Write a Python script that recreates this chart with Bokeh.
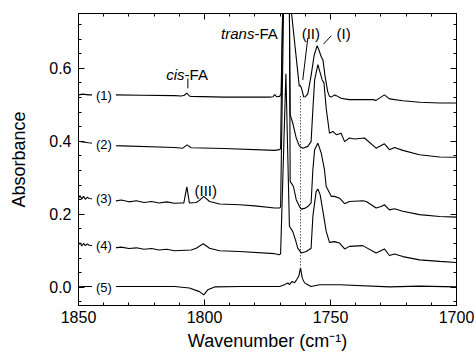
from bokeh.plotting import figure
from bokeh.models import (Range1d, LinearAxis, SingleIntervalTicker, PrintfTickFormatter, Label,
                          CustomJSTickFormatter)
from bokeh.embed import file_html
from bokeh.resources import INLINE

# ---- data: (wavenumber, absorbance) ----
trace1 = [(1850, 0.527), (1848.3, 0.529), (1846.0, 0.527), (1835.7, 0.527), (1825.0, 0.526),
          (1811.9, 0.525), (1809.2, 0.524), (1808.0, 0.526), (1807.0, 0.532), (1806.0, 0.524),
          (1805.3, 0.523), (1792.1, 0.521), (1786.0, 0.521), (1774.2, 0.521), (1772.8, 0.522),
          (1772.2, 0.528), (1771.4, 0.522), (1770.2, 0.523), (1769.6, 0.530), (1767.7, 1.200),
          (1765.6, 0.760), (1762.4, 0.551), (1762.0, 0.553), (1761.5, 0.545), (1760.6, 0.521),
          (1760.0, 0.522), (1759.0, 0.530), (1757.7, 0.580), (1756.5, 0.635), (1755.3, 0.662),
          (1754.5, 0.648), (1753.6, 0.630), (1753.0, 0.623), (1752.2, 0.580), (1751.1, 0.536),
          (1750.4, 0.523), (1749.7, 0.521), (1748.4, 0.527), (1747.7, 0.525), (1745.8, 0.518),
          (1744.4, 0.516), (1742.5, 0.514), (1733.2, 0.514), (1731.9, 0.512), (1728.6, 0.527),
          (1726.6, 0.516), (1721.3, 0.511), (1714.7, 0.507), (1706.7, 0.505), (1700, 0.505)]

trace2 = [(1850, 0.400), (1848.3, 0.398), (1846.0, 0.396), (1835.7, 0.388), (1811.9, 0.383),
          (1808.6, 0.381), (1806.9, 0.390), (1805.3, 0.382), (1792.1, 0.380), (1772.2, 0.375),
          (1770.2, 0.377), (1769.8, 0.380), (1767.9, 1.300), (1766.3, 0.760), (1766.0, 0.473),
          (1765.0, 0.450), (1763.6, 0.409), (1762.3, 0.386), (1761.0, 0.381), (1759.0, 0.386),
          (1757.7, 0.399), (1757.0, 0.486), (1756.3, 0.568), (1755.0, 0.610), (1754.2, 0.590),
          (1753.3, 0.568), (1752.6, 0.560), (1751.7, 0.490), (1750.4, 0.422), (1749.1, 0.427),
          (1747.7, 0.418), (1745.8, 0.422), (1744.4, 0.399), (1742.5, 0.409), (1740.5, 0.406),
          (1736.5, 0.409), (1731.9, 0.381), (1728.6, 0.393), (1726.6, 0.377), (1724.6, 0.383),
          (1721.3, 0.375), (1714.7, 0.363), (1706.7, 0.357), (1700, 0.356)]

trace3 = [(1850, 0.244), (1849.4, 0.251), (1848.7, 0.242), (1848.0, 0.249), (1847.3, 0.241),
          (1846.5, 0.247), (1845.8, 0.243), (1835.7, 0.236), (1833, 0.239), (1830, 0.234),
          (1827, 0.237), (1824, 0.232), (1821, 0.235), (1818, 0.231), (1815, 0.234),
          (1812, 0.230), (1809.2, 0.231), (1808.2, 0.231), (1807.0, 0.275), (1806.0, 0.231),
          (1803.3, 0.232), (1802.0, 0.238), (1800.3, 0.249), (1798.0, 0.235), (1794.0, 0.228),
          (1786.1, 0.226), (1780, 0.223), (1772.2, 0.217), (1770.2, 0.217), (1769.8, 0.220),
          (1767.9, 1.100), (1766.3, 0.760), (1766.0, 0.290), (1764.7, 0.276), (1763.6, 0.240),
          (1762.3, 0.221), (1761.6, 0.214), (1760.3, 0.216), (1759.0, 0.221), (1757.7, 0.231),
          (1757.0, 0.322), (1756.3, 0.377), (1755.0, 0.395), (1753.7, 0.368), (1752.4, 0.322),
          (1751.7, 0.276), (1749.7, 0.249), (1748.4, 0.249), (1746.4, 0.244), (1744.4, 0.229),
          (1742.5, 0.235), (1737.2, 0.237), (1735.8, 0.235), (1731.9, 0.217), (1729.9, 0.221),
          (1728.6, 0.226), (1726.6, 0.212), (1724.6, 0.215), (1721.3, 0.208), (1714.7, 0.199),
          (1706.7, 0.194), (1700, 0.192)]

trace4 = [(1850, 0.116), (1849.4, 0.122), (1848.7, 0.113), (1848.0, 0.120), (1847.3, 0.114),
          (1846.5, 0.119), (1845.8, 0.115), (1835.7, 0.108), (1833, 0.110), (1830, 0.106),
          (1827, 0.108), (1824, 0.104), (1821, 0.106), (1818, 0.102), (1815, 0.104),
          (1811.9, 0.100), (1805.3, 0.102), (1803.3, 0.107), (1800.5, 0.119), (1798.0, 0.107),
          (1794.0, 0.100), (1786.1, 0.098), (1772.2, 0.092), (1770.2, 0.089), (1769.8, 0.092),
          (1767.7, 0.585), (1766.3, 0.167), (1765.0, 0.153), (1763.9, 0.130), (1763.0, 0.107),
          (1761.6, 0.094), (1759.6, 0.098), (1757.7, 0.107), (1757.0, 0.194), (1755.7, 0.262),
          (1755.0, 0.269), (1754.1, 0.253), (1753.1, 0.212), (1751.7, 0.153), (1750.4, 0.123),
          (1748.4, 0.125), (1746.4, 0.121), (1744.4, 0.105), (1742.5, 0.112), (1737.2, 0.114),
          (1731.9, 0.094), (1728.6, 0.105), (1726.6, 0.087), (1724.6, 0.091), (1721.3, 0.084),
          (1714.7, 0.075), (1706.7, 0.071), (1700, 0.068)]

trace5 = [(1850, 0.001), (1847.6, 0.002), (1835.7, 0.002), (1811.9, 0.002), (1806.0, -0.002),
          (1802.0, -0.012), (1800.3, -0.021), (1798.7, -0.007), (1796.0, 0.001), (1785.4, 0.002),
          (1772.2, 0.002), (1770.2, 0.002), (1768.3, 0.007), (1766.9, 0.012), (1766.3, 0.007),
          (1765.2, 0.016), (1764.3, 0.012), (1763.4, 0.021), (1762.6, 0.030), (1761.9, 0.053),
          (1761.2, 0.025), (1760.3, 0.012), (1759.0, 0.007), (1757.7, 0.002), (1754.4, 0.007),
          (1746.4, 0.007), (1726.6, 0.001), (1714.7, 0.003), (1700, 0.001)]

traces = [trace1, trace2, trace3, trace4, trace5]
trace_labels = ["(1)", "(2)", "(3)", "(4)", "(5)"]
trace_label_y = [0.525, 0.390, 0.244, 0.114, 0.000]
trace_label_x = 1839.9

x_ticks_major = 50
y_ticks_major = 0.2

FONT = "Liberation Sans"

p = figure(width=474, height=356, x_range=Range1d(1850, 1700), y_range=Range1d(-0.05, 0.75),
           output_backend="svg", toolbar_location=None,
           min_border_left=78, min_border_right=18, min_border_top=13, min_border_bottom=51)
p.grid.visible = False
p.outline_line_color = "black"
p.background_fill_color = "white"
p.border_fill_color = "white"

p.xaxis.ticker = SingleIntervalTicker(interval=x_ticks_major, num_minor_ticks=5)
p.yaxis.ticker = SingleIntervalTicker(interval=y_ticks_major, num_minor_ticks=5)
p.yaxis.formatter = PrintfTickFormatter(format="%.1f")
p.xaxis.axis_label = "Wavenumber (cm\u207b\u00b9)"
p.yaxis.axis_label = "Absorbance"

top = LinearAxis(ticker=SingleIntervalTicker(interval=x_ticks_major, num_minor_ticks=5))
right = LinearAxis(ticker=SingleIntervalTicker(interval=y_ticks_major, num_minor_ticks=5))
p.add_layout(top, "above")
p.add_layout(right, "right")

for ax in p.axis:
    ax.major_tick_in = 6
    ax.major_tick_out = 0
    ax.minor_tick_in = 3
    ax.minor_tick_out = 0
    ax.axis_line_color = "black"
    ax.major_tick_line_color = "black"
    ax.minor_tick_line_color = "black"
    ax.major_label_text_font = FONT
    ax.major_label_text_font_size = "16px"
    ax.major_label_text_color = "black"
    ax.axis_label_text_font = FONT
    ax.axis_label_text_font_size = "18px"
    ax.axis_label_text_font_style = "normal"
    ax.axis_label_text_color = "black"

p.xaxis[0].major_label_standoff = 7
p.xaxis[0].axis_label_standoff = 5
p.yaxis[0].major_label_standoff = 7
p.yaxis[0].axis_label_standoff = 17

for ax in (top, right):
    ax.formatter = CustomJSTickFormatter(code="return ''")
    ax.major_label_text_font_size = "1px"
    ax.major_label_standoff = 0

for tr in traces:
    xs = [w for w, a in tr]
    ys = [a for w, a in tr]
    p.line(xs, ys, line_color="black", line_width=1.1)

# dotted marker line and leader lines
dot_w = 1761.9
dot_y = [0.523, 0.06]
p.segment(x0=[dot_w], y0=[dot_y[0]], x1=[dot_w], y1=[dot_y[1]], line_color="black",
          line_width=1, line_dash="1 2")

leaders_x0 = [1806.6, 1759.0, 1749.7]
leaders_y0 = [0.545, 0.683, 0.689]
leaders_x1 = [1806.6, 1761.0, 1752.8]
leaders_y1 = [0.572, 0.568, 0.666]
p.segment(x0=leaders_x0, y0=leaders_y0, x1=leaders_x1, y1=leaders_y1, line_color="black", line_width=1)

for txt, yv in zip(trace_labels, trace_label_y):
    p.add_layout(Label(x=trace_label_x, y=yv, text=txt, text_font=FONT, text_font_size="13px",
                       text_align="center", text_baseline="middle", text_color="black",
                       background_fill_color="white", padding=4))

def ann(x, y, t, align="center", style="normal"):
    p.add_layout(Label(x=x, y=y, text=t, text_font=FONT, text_font_size="15px",
                       text_align=align, text_baseline="alphabetic", text_color="black",
                       text_font_style=style))

ann(1807.9, 0.582, "cis", "right", "italic")
ann(1807.9, 0.582, "-FA", "left")
ann(1780.2, 0.696, "trans", "right", "italic")
ann(1780.2, 0.696, "-FA", "left")
ann(1757.8, 0.694, "(II)")
ann(1744.8, 0.694, "(I)")
ann(1799.5, 0.265, "(III)")

open("out.html", "w").write(file_html(p, INLINE))
